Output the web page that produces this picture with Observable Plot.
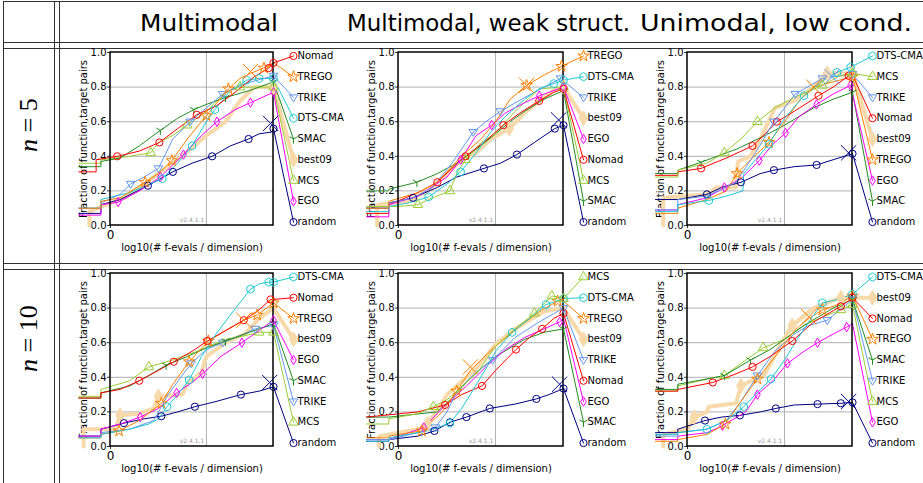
<!DOCTYPE html>
<html><head><meta charset="utf-8">
<script src="https://cdn.jsdelivr.net/npm/d3@7"></script>
<script src="https://cdn.jsdelivr.net/npm/@observablehq/plot@0.6"></script>
<style>
body{margin:0;background:#fff;}
#root{position:relative;width:923px;height:483px;overflow:hidden;background:#fff;}
.hl{position:absolute;height:1px;background:#333;}
.vl{position:absolute;width:1px;background:#333;}
.pn{position:absolute;}
</style></head>
<body><div id="root"></div>
<script>
// ---------- labels ----------
const columnTitles = ["Multimodal", "Multimodal, weak struct.", "Unimodal, low cond."];
const rowDims = ["5", "10"];
const yTickValues = [0, 0.2, 0.4, 0.6, 0.8, 1.0];
const yTickLabels = ["0.0", "0.2", "0.4", "0.6", "0.8", "1.0"];
const xTickValues = [0];
const xTickLabels = ["0"];
const xLabel = "log10(# f-evals / dimension)";
const yLabel = "Fraction of function,target pairs";
const versionLabel = "v2.4.1.1";

// ---------- data: [log10(evals/dim), fraction, marker?] ----------
const multimodal_n5 = {
  Nomad:[[-0.33,0.31],[-0.15,0.31],[-0.15,0.38],[0.07,0.40,1],[0.3,0.43],[0.51,0.48,1],[0.7,0.56],[0.9,0.64,1],[1.1,0.69],[1.3,0.77],[1.5,0.86],[1.65,0.91,1],[1.7,0.94,1]],
  TREGO:[[-0.33,0.10],[-0.1,0.10],[-0.1,0.14],[0.1,0.16],[0.36,0.25,1],[0.5,0.30],[0.64,0.375,1],[0.8,0.5],[1.0,0.635,1],[1.23,0.79,1],[1.35,0.85],[1.46,0.88],[1.6,0.91,1],[1.7,0.94]],
  TRIKE:[[-0.33,0.10],[-0.1,0.10],[-0.1,0.13],[0.1,0.18],[0.21,0.24,1],[0.35,0.28],[0.5,0.33,1],[0.65,0.5],[0.83,0.6,1],[1.0,0.68],[1.17,0.76,1],[1.4,0.82],[1.7,0.865,1]],
  "DTS-CMA":[[-0.33,0.10],[-0.1,0.10],[-0.1,0.15],[0.2,0.19],[0.54,0.27,1],[0.7,0.36],[0.85,0.46,1],[1.0,0.6],[1.09,0.67,1],[1.25,0.78],[1.42,0.84,1],[1.55,0.85,1],[1.7,0.85,1]],
  SMAC:[[-0.33,0.34],[-0.1,0.34],[-0.1,0.37],[0.1,0.39],[0.3,0.46],[0.52,0.55,1],[0.7,0.62],[0.87,0.67,1],[1.0,0.70],[1.2,0.74,1],[1.45,0.78],[1.7,0.83,1]],
  best09:[[-0.22,0],[-0.22,0.08],[0,0.13],[0.15,0.16],[0.3,0.22],[0.5,0.3],[0.7,0.38],[0.85,0.45],[1.0,0.52],[1.2,0.6],[1.35,0.72],[1.5,0.8],[1.7,0.8,1]],
  MCS:[[-0.33,0.36],[-0.1,0.36],[-0.1,0.38],[0.2,0.40],[0.42,0.42,1],[0.5,0.48],[0.65,0.52],[0.8,0.58,1],[1.0,0.66],[1.2,0.77],[1.35,0.8,1],[1.5,0.8],[1.7,0.8,1]],
  EGO:[[-0.33,0.06],[-0.1,0.06],[-0.1,0.12],[0.08,0.135,1],[0.3,0.2],[0.52,0.28,1],[0.76,0.41,1],[0.95,0.52],[1.11,0.6,1],[1.3,0.67],[1.46,0.71,1],[1.7,0.77,1]],
  random:[[-0.33,0.07],[-0.1,0.07],[-0.1,0.12],[0.1,0.15],[0.39,0.23,1],[0.65,0.31,1],[0.85,0.36],[1.06,0.40,1],[1.25,0.46],[1.44,0.5,1],[1.55,0.53],[1.68,0.54],[1.7,0.56,1]]
};
const multimodal_n5_legend = ["Nomad","TREGO","TRIKE","DTS-CMA","SMAC","best09","MCS","EGO","random"];
const multimodal_n5_budget = [["TREGO",1.46,0.89],["random",1.67,0.59]];

const weak_n5 = {
  TREGO:[[-0.33,0.10],[-0.1,0.10],[-0.1,0.14],[0.2,0.19],[0.4,0.25],[0.65,0.4],[0.85,0.5],[1.0,0.6],[1.15,0.73],[1.32,0.81,1],[1.5,0.87],[1.68,0.92,1]],
  "DTS-CMA":[[-0.33,0.08],[-0.1,0.08],[-0.1,0.11],[0.1,0.13],[0.31,0.165,1],[0.5,0.24],[0.64,0.31,1],[0.8,0.42],[0.95,0.54],[1.1,0.63],[1.3,0.73],[1.45,0.79],[1.6,0.82,1],[1.7,0.84,1]],
  TRIKE:[[-0.33,0.10],[-0.1,0.10],[-0.1,0.13],[0.15,0.16],[0.35,0.22],[0.55,0.36],[0.77,0.54,1],[0.9,0.6],[1.05,0.66,1],[1.3,0.74],[1.5,0.8],[1.67,0.85,1]],
  best09:[[-0.22,0],[-0.22,0.12],[0.1,0.14],[0.3,0.2],[0.5,0.3],[0.65,0.38],[0.8,0.42],[0.95,0.5],[1.14,0.56,1],[1.3,0.65],[1.45,0.72],[1.6,0.78],[1.7,0.8,1]],
  EGO:[[-0.33,0.05],[-0.1,0.05],[-0.1,0.12],[0.2,0.17],[0.5,0.28],[0.64,0.38,1],[0.8,0.52],[0.96,0.58,1],[1.1,0.65],[1.3,0.71],[1.45,0.75,1],[1.7,0.8,1]],
  Nomad:[[-0.33,0.07],[-0.1,0.07],[-0.1,0.12],[0.2,0.19],[0.4,0.25,1],[0.55,0.33],[0.69,0.40,1],[0.9,0.49],[1.08,0.58,1],[1.25,0.65],[1.45,0.72,1],[1.6,0.77],[1.7,0.79,1]],
  MCS:[[-0.33,0.11],[0,0.11],[0.2,0.12,1],[0.35,0.16],[0.53,0.2,1],[0.6,0.3],[0.69,0.38,1],[0.85,0.48],[1.0,0.53],[1.2,0.66],[1.45,0.79],[1.7,0.8,1]],
  SMAC:[[-0.33,0.20],[-0.1,0.20],[-0.1,0.21],[0.19,0.25,1],[0.4,0.3],[0.6,0.36],[0.8,0.44],[1.0,0.53],[1.15,0.6],[1.3,0.66],[1.5,0.73],[1.7,0.78,1]],
  random:[[-0.33,0.10],[-0.1,0.10],[-0.1,0.13],[0.15,0.16,1],[0.4,0.22],[0.6,0.28],[0.88,0.33,1],[1.05,0.36],[1.22,0.41,1],[1.4,0.48],[1.61,0.56,1],[1.7,0.58,1]]
};
const weak_n5_legend = ["TREGO","DTS-CMA","TRIKE","best09","EGO","Nomad","MCS","SMAC","random"];
const weak_n5_budget = [["TREGO",1.32,0.81],["random",1.65,0.61]];

const unimodal_n5 = {
  "DTS-CMA":[[-0.33,0.08],[-0.1,0.08],[-0.1,0.12],[0.22,0.145,1],[0.4,0.17],[0.57,0.2],[0.58,0.3],[0.7,0.38],[0.84,0.47,1],[1.0,0.62],[1.2,0.75,1],[1.4,0.84],[1.54,0.885,1],[1.68,0.915,1]],
  MCS:[[-0.33,0.28],[-0.1,0.28],[-0.1,0.32],[0.2,0.36],[0.38,0.42,1],[0.55,0.5],[0.72,0.6,1],[0.9,0.68],[1.1,0.74],[1.39,0.81,1],[1.55,0.86],[1.7,0.88,1]],
  TRIKE:[[-0.33,0.09],[-0.1,0.09],[-0.1,0.15],[0.2,0.17],[0.5,0.25],[0.7,0.42],[0.89,0.6,1],[1.0,0.68],[1.11,0.76,1],[1.39,0.85,1],[1.7,0.875,1]],
  Nomad:[[-0.33,0.29],[-0.1,0.29],[-0.1,0.31],[0.14,0.33,1],[0.4,0.39],[0.67,0.46,1],[0.8,0.53],[0.92,0.6,1],[1.1,0.66],[1.35,0.75,1],[1.5,0.8],[1.66,0.865,1],[1.7,0.87]],
  best09:[[-0.25,0],[-0.25,0.16],[0,0.17],[0.2,0.18],[0.3,0.22],[0.5,0.22],[0.52,0.37],[0.65,0.4],[0.75,0.5],[0.9,0.68],[1.1,0.72],[1.3,0.8],[1.44,0.88,1],[1.7,0.88,1]],
  TREGO:[[-0.33,0.07],[-0.1,0.07],[-0.1,0.10],[0.2,0.15],[0.4,0.2],[0.51,0.3,1],[0.65,0.38],[0.84,0.48,1],[1.0,0.6],[1.15,0.72],[1.3,0.8],[1.5,0.83],[1.7,0.86,1]],
  EGO:[[-0.33,0.09],[-0.1,0.09],[-0.1,0.12],[0.2,0.16],[0.38,0.22,1],[0.55,0.27],[0.74,0.375,1],[0.88,0.47],[1.01,0.535,1],[1.15,0.63],[1.33,0.7,1],[1.5,0.76],[1.68,0.81,1]],
  SMAC:[[-0.33,0.30],[-0.1,0.30],[-0.1,0.32],[0.14,0.365,1],[0.35,0.41],[0.5,0.44],[0.65,0.48],[0.8,0.52],[1.0,0.58],[1.15,0.63],[1.3,0.68],[1.5,0.73],[1.7,0.77,1]],
  random:[[-0.33,0.15],[-0.1,0.15],[0.2,0.18,1],[0.35,0.22],[0.55,0.25,1],[0.75,0.3],[0.89,0.32,1],[1.1,0.34],[1.33,0.35,1],[1.5,0.38],[1.7,0.415,1]]
};
const unimodal_n5_legend = ["DTS-CMA","MCS","TRIKE","Nomad","best09","TREGO","EGO","SMAC","random"];
const unimodal_n5_budget = [["TREGO",1.3,0.8],["TRIKE",1.49,0.86],["random",1.66,0.42]];

const multimodal_n10 = {
  "DTS-CMA":[[-0.33,0.05],[-0.1,0.05],[-0.1,0.07],[0.2,0.1],[0.4,0.13],[0.5,0.16],[0.59,0.23,1],[0.7,0.3],[0.82,0.385,1],[0.95,0.52],[1.1,0.65],[1.25,0.76],[1.46,0.91,1],[1.55,0.94],[1.65,0.95,1],[1.7,0.95,1]],
  Nomad:[[-0.33,0.28],[-0.1,0.28],[-0.1,0.31],[0.1,0.33],[0.3,0.38,1],[0.5,0.44],[0.66,0.49,1],[0.85,0.55],[1.01,0.61,1],[1.2,0.67],[1.39,0.73,1],[1.55,0.79],[1.67,0.85,1],[1.7,0.85]],
  TREGO:[[-0.33,0.05],[-0.1,0.05],[-0.1,0.07],[0.09,0.09,1],[0.3,0.15],[0.53,0.25,1],[0.65,0.36],[0.82,0.49,1],[1.02,0.61,1],[1.2,0.67],[1.39,0.73],[1.53,0.76,1],[1.7,0.83,1]],
  best09:[[-0.28,0],[-0.28,0.1],[0.05,0.1],[0.1,0.18,1],[0.3,0.19],[0.45,0.22],[0.5,0.29,1],[0.75,0.3],[0.8,0.36],[0.95,0.43],[1.0,0.52],[1.2,0.6],[1.4,0.65],[1.55,0.74],[1.7,0.8]],
  EGO:[[-0.33,0.06],[-0.1,0.06],[-0.1,0.10],[0.1,0.13],[0.31,0.17,1],[0.5,0.22],[0.69,0.31,1],[0.85,0.37],[0.96,0.42,1],[1.15,0.52],[1.37,0.6,1],[1.55,0.67],[1.7,0.73,1]],
  SMAC:[[-0.33,0.28],[-0.1,0.28],[-0.1,0.31],[0.2,0.35],[0.4,0.41],[0.58,0.47,1],[0.8,0.52],[1.0,0.57],[1.2,0.61,1],[1.45,0.66],[1.7,0.71,1]],
  TRIKE:[[-0.33,0.06],[-0.1,0.06],[-0.1,0.08],[0.2,0.10],[0.45,0.15],[0.6,0.3],[0.84,0.48,1],[1.0,0.56],[1.17,0.6,1],[1.35,0.64],[1.51,0.68,1],[1.7,0.7,1]],
  MCS:[[-0.33,0.29],[-0.1,0.29],[-0.1,0.33],[0.2,0.38],[0.4,0.46,1],[0.65,0.5],[0.9,0.55],[1.2,0.62],[1.4,0.64],[1.55,0.66,1],[1.7,0.66,1]],
  random:[[-0.33,0.06],[-0.1,0.06],[-0.1,0.10],[0.14,0.135,1],[0.35,0.16],[0.53,0.175,1],[0.7,0.2],[0.88,0.23,1],[1.1,0.26],[1.36,0.3,1],[1.55,0.32],[1.7,0.345,1]]
};
const multimodal_n10_legend = ["DTS-CMA","Nomad","TREGO","best09","EGO","SMAC","TRIKE","MCS","random"];
const multimodal_n10_budget = [["TREGO",1.39,0.73],["random",1.66,0.37]];

const weak_n10 = {
  MCS:[[-0.33,0.13],[-0.1,0.13],[-0.1,0.16],[0.2,0.19],[0.36,0.23,1],[0.5,0.27],[0.6,0.32],[0.83,0.44],[1.0,0.58],[1.2,0.68],[1.4,0.77,1],[1.58,0.87,1],[1.7,0.855,1]],
  "DTS-CMA":[[-0.33,0.03],[-0.1,0.03],[-0.1,0.05],[0.3,0.09],[0.53,0.135,1],[0.65,0.22],[0.74,0.3],[0.9,0.45],[1.0,0.55],[1.17,0.66,1],[1.35,0.74],[1.52,0.82,1],[1.7,0.855,1]],
  TREGO:[[-0.33,0.05],[-0.1,0.05],[-0.1,0.06],[0.24,0.09,1],[0.45,0.2],[0.6,0.32,1],[0.74,0.44],[0.98,0.57],[1.26,0.7],[1.45,0.78],[1.64,0.84,1],[1.7,0.84]],
  best09:[[-0.2,0],[-0.2,0.06],[0.2,0.1],[0.3,0.13,1],[0.45,0.25],[0.5,0.3],[0.8,0.45],[1.0,0.59],[1.2,0.68],[1.5,0.78],[1.7,0.8]],
  TRIKE:[[-0.33,0.04],[-0.1,0.04],[0.2,0.08],[0.38,0.11,1],[0.5,0.2],[0.6,0.32],[0.8,0.43],[0.97,0.5,1],[1.2,0.63],[1.45,0.72],[1.7,0.8,1]],
  Nomad:[[-0.33,0.17],[0.2,0.2],[0.48,0.24,1],[0.65,0.3],[0.86,0.35,1],[1.0,0.44],[1.21,0.56,1],[1.35,0.63],[1.48,0.68,1],[1.6,0.74],[1.7,0.77,1]],
  EGO:[[-0.33,0.04],[-0.1,0.04],[0.26,0.11,1],[0.45,0.22],[0.7,0.35],[0.9,0.46],[1.1,0.56],[1.3,0.63],[1.5,0.68],[1.66,0.72,1],[1.7,0.74]],
  SMAC:[[-0.33,0.17],[-0.1,0.17],[0.4,0.2],[0.55,0.28],[0.7,0.37],[0.85,0.45],[1.0,0.52],[1.3,0.62],[1.5,0.66],[1.7,0.68,1]],
  random:[[-0.33,0.03],[-0.1,0.03],[-0.1,0.04],[0.2,0.06],[0.37,0.09,1],[0.53,0.14,1],[0.7,0.17,1],[0.94,0.22,1],[1.2,0.245],[1.42,0.275,1],[1.55,0.3],[1.7,0.335,1]]
};
const weak_n10_legend = ["MCS","DTS-CMA","TREGO","best09","TRIKE","Nomad","EGO","SMAC","random"];
const weak_n10_budget = [["TREGO",0.74,0.46],["random",1.66,0.36]];

const unimodal_n10 = {
  "DTS-CMA":[[-0.33,0.07],[-0.1,0.07],[-0.1,0.08],[0.2,0.10,1],[0.4,0.15],[0.58,0.23,1],[0.7,0.3],[0.86,0.39,1],[1.0,0.5],[1.13,0.62],[1.25,0.72],[1.39,0.83,1],[1.55,0.85],[1.7,0.88,1]],
  best09:[[-0.25,0],[-0.25,0.07],[0,0.1],[0.07,0.17,1],[0.2,0.2],[0.22,0.23],[0.5,0.25],[0.55,0.35,1],[0.8,0.42],[0.95,0.58],[1.08,0.7,1],[1.3,0.8],[1.58,0.86,1],[1.7,0.86]],
  Nomad:[[-0.33,0.32],[-0.1,0.32],[-0.1,0.33],[0.26,0.37,1],[0.5,0.42],[0.67,0.46,1],[0.85,0.52],[1.08,0.61,1],[1.3,0.72],[1.58,0.81,1],[1.7,0.86,1]],
  TREGO:[[-0.33,0.03],[-0.1,0.03],[-0.1,0.04],[0.2,0.07],[0.39,0.13,1],[0.55,0.26],[0.72,0.39,1],[0.96,0.56],[1.1,0.67],[1.25,0.74],[1.39,0.79,1],[1.55,0.82],[1.7,0.87,1]],
  SMAC:[[-0.33,0.33],[-0.1,0.33],[-0.1,0.36],[0.2,0.39],[0.38,0.41,1],[0.5,0.45],[0.65,0.5,1],[0.85,0.56],[1.0,0.62],[1.2,0.7],[1.35,0.75],[1.5,0.8],[1.7,0.85,1]],
  TRIKE:[[-0.33,0.06],[-0.1,0.06],[-0.1,0.08],[0.2,0.10],[0.4,0.15],[0.55,0.26],[0.72,0.41,1],[0.9,0.55],[1.1,0.65],[1.25,0.7],[1.44,0.73,1],[1.55,0.78],[1.7,0.85,1]],
  MCS:[[-0.33,0.32],[-0.1,0.32],[-0.1,0.35],[0.2,0.39],[0.38,0.41,1],[0.6,0.5],[0.78,0.57,1],[1.0,0.62],[1.2,0.7],[1.4,0.75],[1.58,0.79,1],[1.7,0.82,1]],
  EGO:[[-0.33,0.04],[-0.1,0.04],[-0.1,0.06],[0.2,0.08],[0.36,0.12,1],[0.6,0.2],[0.72,0.3,1],[0.88,0.38],[1.03,0.48,1],[1.2,0.55],[1.34,0.6,1],[1.5,0.65],[1.64,0.69,1],[1.7,0.71]],
  random:[[-0.33,0.08],[-0.1,0.08],[-0.1,0.10],[0.18,0.15,1],[0.35,0.17],[0.54,0.18,1],[0.75,0.2],[0.91,0.22,1],[1.1,0.24],[1.34,0.245,1],[1.58,0.25,1],[1.7,0.255,1]]
};
const unimodal_n10_legend = ["DTS-CMA","best09","Nomad","TREGO","SMAC","TRIKE","MCS","EGO","random"];
const unimodal_n10_budget = [["TREGO",1.25,0.75],["random",1.66,0.26]];

// ---------- styles ----------
const COLOR = {Nomad:"#ff0000", TREGO:"#ff8000", TRIKE:"#6495ed", "DTS-CMA":"#1ec8d2", SMAC:"#228b22",
  best09:"#f7d9aa", MCS:"#9acd32", EGO:"#ff00ff", random:"#000080"};
const rOf = s => Math.sqrt(s / Math.PI);
const triDown = {draw(c, s){const r=rOf(s)*1.2; c.moveTo(-r,-r*0.6); c.lineTo(r,-r*0.6); c.lineTo(0,r); c.closePath();}};
const thinDiamond = {draw(c, s){const r=rOf(s)*1.3; c.moveTo(0,-r); c.lineTo(r*0.6,0); c.lineTo(0,r); c.lineTo(-r*0.6,0); c.closePath();}};
const triY = {draw(c, s){const r=rOf(s)*1.3; c.moveTo(0,0); c.lineTo(0,r); c.moveTo(0,0); c.lineTo(-0.866*r,-0.5*r); c.moveTo(0,0); c.lineTo(0.866*r,-0.5*r);}};
const SYMBOL = {Nomad:"circle", TREGO:"star", TRIKE:triDown, "DTS-CMA":"hexagon", SMAC:triY,
  best09:"diamond", MCS:"triangle", EGO:thinDiamond, random:"circle"};

// ---------- layout ----------
const root = document.getElementById("root");
function hline(x1, x2, y){const d=document.createElement("div");d.className="hl";d.style.left=x1+"px";d.style.width=(x2-x1)+"px";d.style.top=y+"px";root.appendChild(d);}
function vline(x, y1, y2){const d=document.createElement("div");d.className="vl";d.style.left=x+"px";d.style.top=y1+"px";d.style.height=(y2-y1)+"px";root.appendChild(d);}
hline(3, 923, 1); hline(3, 923, 42); hline(3, 923, 48); hline(3, 923, 263); hline(3, 923, 269);
vline(3, 1, 483); vline(54, 1, 483); vline(59, 1, 483);

// header + row labels
const NS = "http://www.w3.org/2000/svg";
const hs = document.createElementNS(NS, "svg");
hs.setAttribute("width", 923); hs.setAttribute("height", 483);
hs.style.position = "absolute"; hs.style.left = "0"; hs.style.top = "0";
const titlePos = [[140, 138], [347, 283], [640, 272]];
columnTitles.forEach((t, i) => {
  const e = document.createElementNS(NS, "text");
  e.setAttribute("x", titlePos[i][0]); e.setAttribute("y", 31);
  e.setAttribute("textLength", titlePos[i][1]); e.setAttribute("lengthAdjust", "spacingAndGlyphs");
  e.setAttribute("font-family", "DejaVu Sans Condensed, DejaVu Sans, sans-serif");
  e.setAttribute("font-size", 23); e.setAttribute("fill", "#000");
  e.textContent = t; hs.appendChild(e);
});
const rowLabelPos = [[37, 152], [37, 372]];
rowDims.forEach((dm, i) => {
  const e = document.createElementNS(NS, "text");
  const [x, y] = rowLabelPos[i];
  e.setAttribute("transform", `translate(${x},${y}) rotate(-90)`);
  e.setAttribute("font-family", "Liberation Serif, serif"); e.setAttribute("font-size", 26);
  const a = document.createElementNS(NS, "tspan"); a.setAttribute("font-style", "italic"); a.textContent = "n";
  const b = document.createElementNS(NS, "tspan"); b.textContent = " = " + dm;
  e.appendChild(a); e.appendChild(b); hs.appendChild(e);
});
root.appendChild(hs);

// panels
const panels = [
  [multimodal_n5, multimodal_n5_legend, multimodal_n5_budget],
  [weak_n5, weak_n5_legend, weak_n5_budget],
  [unimodal_n5, unimodal_n5_legend, unimodal_n5_budget],
  [multimodal_n10, multimodal_n10_legend, multimodal_n10_budget],
  [weak_n10, weak_n10_legend, weak_n10_budget],
  [unimodal_n10, unimodal_n10_legend, unimodal_n10_budget]
];
const colLeft = [60, 340, 630], colW = [290, 290, 293];
const frameL = [50, 58, 57], frameR = [213, 223, 222];
const rowTop = [49, 269], rowH = 214;
const frameT = [3, 4], frameB = [176, 177];
const XMAX = 1.7;

panels.forEach(([curves, order, budget], k) => {
  const col = k % 3, row = Math.floor(k / 3);
  const L = frameL[col], R = frameR[col], T = frameT[row], B = frameB[row];
  const pxPerUnit = (R - L) / XMAX;
  const xLeg = XMAX + 20 / pxPerUnit;
  const legY = order.map((n, i) => 0.98 - i * 0.12);
  const X = d => d[0], Y = d => d[1];
  const marks = [
    Plot.ruleY(yTickValues.slice(1, -1), {x1: () => 0, x2: () => XMAX, stroke: "#b0b0b0", strokeWidth: 1}),
    Plot.ruleX([1], {y1: () => 0, y2: () => 1, stroke: "#b0b0b0", strokeWidth: 1}),
    Plot.ruleY(yTickValues, {x1: () => -3 / pxPerUnit, x2: () => 0, stroke: "#000", strokeWidth: 0.8}),
    Plot.ruleX(xTickValues, {y1: () => -0.018, y2: () => 0, stroke: "#000", strokeWidth: 0.8}),
    Plot.text(yTickValues, {x: () => 0, y: d => d, text: (d, i) => yTickLabels[i], dx: -4, textAnchor: "end", fontSize: 10, fill: "#000"}),
    Plot.text(xTickValues, {x: d => d, y: () => 0, text: (d, i) => xTickLabels[i], dy: 10, fontSize: 12, fill: "#000"}),
    Plot.text([xLabel], {x: () => XMAX / 2, y: () => 0, text: d => d, dy: 22, fontSize: 10, fill: "#000"}),
    Plot.text([yLabel], {x: () => 0, y: () => 0.5, text: d => d, dx: -27, rotate: -90, fontSize: 10, fill: "#000"}),
    Plot.text([versionLabel], {x: () => XMAX / 2, y: () => 0, text: d => d, dy: -5, fontSize: 6, fill: "#999"})
  ];
  const drawOrder = ["best09", ...order.filter(a => a !== "best09").reverse()];
  drawOrder.forEach(a => {
    const pts = curves[a];
    const last = pts[pts.length - 1];
    const ly = legY[order.indexOf(a)];
    const sw = a === "best09" ? 4 : 1;
    const col = COLOR[a];
    marks.push(Plot.line(pts, {x: X, y: Y, stroke: col, strokeWidth: sw, strokeLinejoin: "miter"}));
    marks.push(Plot.line([last, [xLeg, ly]], {x: X, y: Y, stroke: col, strokeWidth: sw}));
  });
  marks.push(Plot.rect([0], {x1: () => 0, x2: () => XMAX, y1: () => 0, y2: () => 1, fill: "none", stroke: "#000", strokeWidth: 1.5}));
  drawOrder.forEach(a => {
    const pts = curves[a];
    const ly = legY[order.indexOf(a)];
    const col = COLOR[a];
    const isB = a === "best09";
    const dopt = {x: X, y: Y, symbol: SYMBOL[a], r: isB ? 4.5 : 3.6, stroke: col, fill: isB ? col : "none", strokeWidth: 1};
    marks.push(Plot.dot(pts.filter(d => d[2] === 1), dopt));
    marks.push(Plot.dot([[xLeg, ly]], dopt));
    marks.push(Plot.text([a], {x: () => xLeg, y: () => ly, text: d => d, dx: 4, textAnchor: "start", fontSize: 10, fill: "#000"}));
  });
  marks.push(Plot.dot(budget, {x: d => d[1], y: d => d[2], symbol: "times", r: 7, stroke: d => COLOR[d[0]], strokeWidth: 1}));

  const svg = Plot.plot({
    width: colW[col], height: rowH,
    margin: 0,
    x: {type: "linear", domain: [0, XMAX], range: [L, R], axis: null},
    y: {type: "linear", domain: [0, 1], range: [B, T], axis: null},
    color: {type: "identity"},
    style: {background: "transparent", overflow: "visible", fontFamily: "DejaVu Sans, sans-serif", fontSize: "10px"},
    marks
  });
  const wrap = document.createElement("div");
  wrap.className = "pn";
  wrap.style.left = colLeft[col] + "px"; wrap.style.top = rowTop[row] + "px";
  wrap.appendChild(svg);
  root.appendChild(wrap);
});
</script>
</body></html>
